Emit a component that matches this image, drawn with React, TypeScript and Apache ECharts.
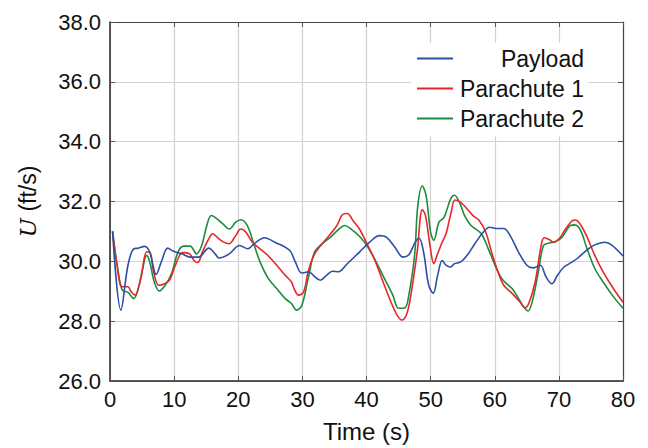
import React, { useEffect, useRef } from "react";
import * as echarts from "echarts";

const payloadT = [0.4, 1.7, 2.8, 3.7, 4.4, 5.4, 6.2, 7.2, 8, 9, 9.9, 11.2, 12.5, 13.8, 15.4, 16.4, 17, 18.6, 20.2, 21.5, 22.5, 24.1, 25.7, 28, 28.9, 29.9, 31, 31.8, 32.8, 33.8, 34.7, 35.6, 37, 38.9, 40.5, 42, 43.1, 44.4, 45.7, 46.6, 47.6, 48.2, 48.9, 49.7, 50.4, 51.1, 51.8, 52.4, 53.1, 53.7, 54.7, 55.7, 56.9, 58.2, 59.2, 60.2, 61.4, 62.4, 63.7, 65, 66, 67.1, 68, 68.9, 69.8, 70.8, 72.1, 73, 74.3, 75.6, 77.2, 78.2, 80];
const payloadU = [31.0, 28.37, 29.87, 30.42, 30.44, 30.5, 30.3, 29.56, 29.98, 30.44, 30.34, 30.25, 30.14, 30.14, 30.44, 30.25, 30.11, 30.25, 30.53, 30.42, 30.59, 30.79, 30.64, 30.37, 29.98, 29.61, 29.65, 29.51, 29.37, 29.54, 29.67, 29.65, 29.92, 30.31, 30.64, 30.86, 30.81, 30.48, 30.14, 30.22, 30.64, 30.77, 30.31, 29.2, 28.93, 29.54, 30.03, 29.87, 29.81, 29.92, 29.98, 30.2, 30.59, 30.97, 31.14, 31.1, 31.1, 30.86, 30.31, 29.87, 29.78, 29.87, 29.48, 29.25, 29.54, 29.81, 29.98, 30.12, 30.37, 30.55, 30.64, 30.55, 30.18];

const para1T = [0.4, 1.1, 1.9, 2.8, 3.3, 3.9, 4.8, 5.7, 6.2, 6.8, 7.6, 8.6, 9.3, 10.2, 11.3, 12.4, 13.1, 13.7, 14.4, 15.4, 16, 16.7, 17.6, 18.6, 19.6, 20.4, 21.2, 22.2, 23.4, 24.7, 26, 27.3, 28.3, 28.7, 29.4, 30.2, 30.9, 31.8, 33.1, 34.4, 35.4, 36.2, 37, 37.9, 38.9, 40.2, 41.2, 42.4, 43.7, 44.7, 45.5, 46.3, 47, 47.9, 48.7, 49.2, 49.9, 50.5, 51, 51.8, 52.4, 53.2, 53.8, 54.7, 55.7, 56.6, 57.6, 58.6, 59.5, 60.5, 61.4, 62.7, 63.9, 64.7, 65.3, 66.3, 67.2, 67.7, 68.5, 69.2, 70.1, 71.1, 72.1, 72.6, 73.3, 74.3, 75.6, 76.9, 78.5, 80];
const para1U = [31.0, 29.87, 29.15, 29.15, 28.98, 28.87, 29.42, 30.31, 30.31, 29.65, 29.2, 29.26, 29.37, 29.87, 30.29, 30.25, 30.03, 29.96, 30.31, 30.75, 30.92, 30.81, 30.66, 30.59, 30.86, 31.08, 30.97, 30.64, 30.42, 30.18, 29.87, 29.54, 29.31, 29.09, 28.87, 28.98, 29.65, 30.2, 30.59, 30.92, 31.2, 31.55, 31.6, 31.36, 31.08, 30.53, 30.09, 29.42, 28.7, 28.23, 28.04, 28.26, 28.98, 30.31, 31.73, 31.53, 30.53, 29.92, 30.2, 30.64, 30.92, 31.64, 32.05, 31.97, 31.75, 31.53, 31.36, 30.97, 30.31, 29.65, 29.2, 28.93, 28.65, 28.45, 28.59, 29.31, 30.48, 30.79, 30.73, 30.64, 30.77, 31.1, 31.36, 31.38, 31.25, 30.86, 30.2, 29.65, 29.09, 28.63];

const para2T = [0.4, 1.2, 1.9, 2.8, 3.7, 4.4, 5.1, 5.7, 6.2, 6.9, 7.7, 8.6, 9.6, 10.6, 11.5, 12.5, 13.5, 14.3, 15.1, 15.8, 16.7, 17.6, 18.6, 19.6, 20.4, 21.4, 22.5, 23.4, 24.7, 26, 27.3, 28.3, 29.1, 29.9, 30.9, 31.9, 33.1, 34.4, 35.7, 36.6, 37.6, 38.9, 40.2, 41.5, 42.8, 44.1, 45.0, 46, 46.6, 47.5, 48.0, 48.7, 49.3, 50, 50.5, 51.3, 52.1, 53.1, 53.7, 54.5, 55.3, 56.3, 57.9, 59.2, 60.5, 61.4, 62.7, 63.7, 64.5, 65.2, 65.9, 66.8, 67.6, 68.5, 69.5, 70.5, 71.8, 72.5, 73.4, 74.3, 75.6, 76.9, 78.5, 80];
const para2U = [31.0, 29.76, 29.04, 28.96, 28.76, 29.09, 29.76, 30.2, 29.98, 29.31, 29.01, 29.2, 29.59, 30.31, 30.51, 30.51, 30.25, 30.53, 31.2, 31.53, 31.42, 31.25, 31.08, 31.31, 31.39, 31.2, 30.53, 29.98, 29.42, 29.09, 28.76, 28.59, 28.37, 28.52, 29.42, 30.31, 30.59, 30.81, 31.08, 31.2, 31.08, 30.84, 30.48, 29.98, 29.42, 28.87, 28.43, 28.45, 28.87, 30.2, 31.86, 32.52, 32.19, 30.97, 30.7, 31.31, 31.47, 32.08, 32.21, 31.97, 31.53, 31.2, 30.92, 30.31, 29.65, 29.34, 29.09, 28.76, 28.48, 28.34, 28.7, 29.65, 30.53, 30.61, 30.66, 30.81, 31.2, 31.22, 31.03, 30.48, 29.76, 29.31, 28.82, 28.43];

const seriesNames = ["Payload", "Parachute 1", "Parachute 2"];
const seriesColors = ["#2b4fa3", "#e8262b", "#1c8c3c"];

const zip = (t: number[], u: number[]) => t.map((x, i) => [x, u[i]]);

const FONT = "'Liberation Sans', Arial, sans-serif";

export default function App() {
  const ref = useRef<HTMLDivElement>(null);
  useEffect(() => {
    if (!ref.current) return;
    const chart = echarts.init(ref.current, undefined, { renderer: "svg" });
    const datasets = [zip(payloadT, payloadU), zip(para1T, para1U), zip(para2T, para2U)];
    const tickStyle = { show: true, inside: true, length: 5, lineStyle: { color: "#555", width: 1 } };
    chart.setOption({
      animation: false,
      backgroundColor: "#fff",
      textStyle: { fontFamily: FONT },
      grid: { left: 110, right: 25, top: 22, bottom: 65, containLabel: false },
      legend: {
        data: seriesNames,
        orient: "vertical",
        right: 60,
        top: 43,
        itemWidth: 36,
        itemHeight: 2,
        itemGap: 7,
        icon: "rect",
        backgroundColor: "#fff",
        padding: [4, 4, 6, 6],
        formatter: (n: string) => `{a|${n}}`,
        textStyle: {
          color: "#111",
          fontFamily: FONT,
          fontSize: 23,
          rich: { a: { width: 126, align: "right", fontSize: 23, fontFamily: FONT, color: "#111" } },
        },
      },
      xAxis: [
        {
          type: "value",
          min: 0,
          max: 80,
          interval: 10,
          name: "Time (s)",
          nameLocation: "middle",
          nameGap: 38,
          nameTextStyle: { fontSize: 24, color: "#111", fontFamily: FONT },
          axisLine: { show: true, onZero: false, lineStyle: { color: "#222", width: 1.5 } },
          axisTick: tickStyle,
          axisLabel: { fontSize: 22, color: "#111", margin: 7, fontFamily: FONT },
          splitLine: { show: true, lineStyle: { color: "#d2d2d2", width: 1.2 } },
        },
        {
          type: "value",
          position: "top",
          min: 0,
          max: 80,
          interval: 10,
          axisLine: { show: true, onZero: false, lineStyle: { color: "#444", width: 1.2 } },
          axisTick: tickStyle,
          axisLabel: { show: false },
          splitLine: { show: false },
        },
      ],
      yAxis: [
        {
          type: "value",
          min: 26,
          max: 38,
          interval: 2,
          name: "{u|U} (ft/s)",
          nameLocation: "middle",
          nameGap: 71,
          nameRotate: 90,
          nameTextStyle: {
            fontSize: 23,
            color: "#111",
            fontFamily: FONT,
            rich: { u: { fontStyle: "italic", fontFamily: "'DejaVu Serif', 'Liberation Serif', serif", fontSize: 23, color: "#111" } },
          },
          axisLine: { show: true, onZero: false, lineStyle: { color: "#222", width: 1.5 } },
          axisTick: tickStyle,
          axisLabel: { fontSize: 22, color: "#111", margin: 9, fontFamily: FONT, formatter: (v: number) => v.toFixed(1) },
          splitLine: { show: true, lineStyle: { color: "#d2d2d2", width: 1.2 } },
        },
        {
          type: "value",
          position: "right",
          min: 26,
          max: 38,
          interval: 2,
          axisLine: { show: true, onZero: false, lineStyle: { color: "#444", width: 1.2 } },
          axisTick: tickStyle,
          axisLabel: { show: false },
          splitLine: { show: false },
        },
      ],
      series: seriesNames.map((name, i) => ({
        name,
        type: "line",
        data: datasets[i],
        smooth: 0.35,
        showSymbol: false,
        symbol: "none",
        color: seriesColors[i],
        lineStyle: { color: seriesColors[i], width: 1.6 },
        z: 3 - i,
      })),
    });
    return () => chart.dispose();
  }, []);
  return <div ref={ref} style={{ width: 648, height: 448, position: "absolute", left: 0, top: 0 }} />;
}
